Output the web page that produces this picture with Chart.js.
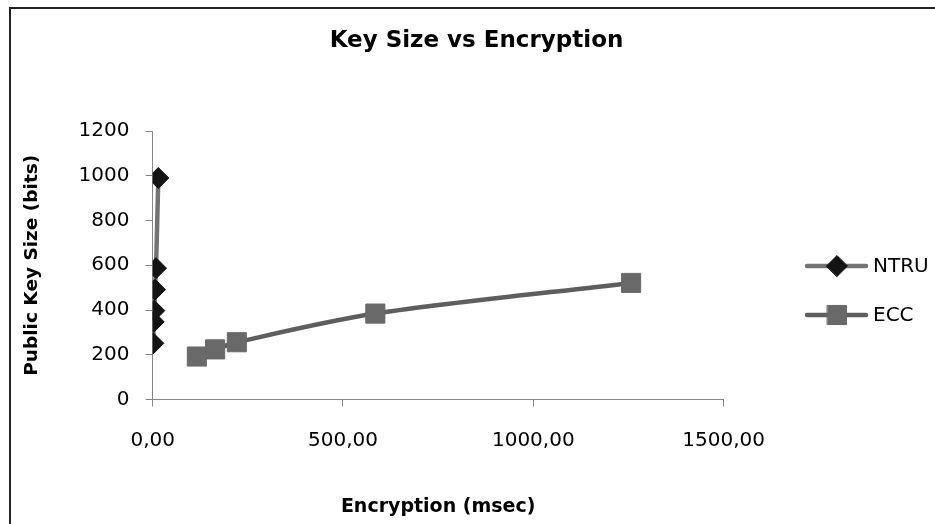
<!DOCTYPE html>
<html>
<head>
<meta charset="utf-8">
<script src="https://cdn.jsdelivr.net/npm/chart.js@4"></script>
<style>
  html, body { margin: 0; padding: 0; background: #fff; }
  #wrap { position: relative; width: 935px; height: 524px; overflow: hidden; background: #fff; }
  #wrap canvas { position: absolute; left: 0; top: 0; }
  #frame { position: absolute; left: 9px; top: 7px; width: 1000px; height: 1000px;
           border-left: 2px solid #222; border-top: 2px solid #222; pointer-events: none; }
</style>
</head>
<body>
<div id="wrap">
  <canvas id="chart" width="935" height="524"></canvas>
  <div id="frame"></div>
</div>
<script>
// Encryption time (msec) and public key size (bits) per scheme
const ntruEncryption = [1.6, 2.6, 4.2, 6.0, 8.7, 14.7];
const ntruKeySize    = [251, 347, 397, 491, 587, 990];
const eccEncryption  = [116, 164, 221, 585, 1257];
const eccKeySize     = [192, 224, 256, 384, 521];

const seriesNames = ['NTRU', 'ECC'];
const xTickValues = [0, 500, 1000, 1500];
const yTickValues = [0, 200, 400, 600, 800, 1000, 1200];

const FONT = 'DejaVu Sans';
const AXIS_GREY = '#868686';

function toPoints(xs, ys) {
  return xs.map((x, i) => ({ x: x, y: ys[i] }));
}

// Legend at the right of the plot: a line with the series marker, then the name
const sideLegend = {
  id: 'sideLegend',
  afterDraw(chart) {
    const ctx = chart.ctx;
    const rows = [266, 315];
    const x0 = 807, x1 = 866, xm = 837, xt = 873;
    chart.data.datasets.forEach((ds, i) => {
      const y = rows[i];
      ctx.save();
      ctx.strokeStyle = ds.borderColor;
      ctx.lineWidth = ds.borderWidth;
      ctx.lineCap = 'round';
      ctx.beginPath();
      ctx.moveTo(x0, y);
      ctx.lineTo(x1, y);
      ctx.stroke();
      ctx.fillStyle = ds.pointBackgroundColor;
      ctx.strokeStyle = ds.pointBorderColor;
      ctx.lineWidth = 1;
      ctx.beginPath();
      if (ds.pointStyle === 'rectRot') {
        const r = ds.pointRadius;
        ctx.moveTo(xm - r, y);
        ctx.lineTo(xm, y - r);
        ctx.lineTo(xm + r, y);
        ctx.lineTo(xm, y + r);
        ctx.closePath();
      } else {
        const s = Math.SQRT1_2 * ds.pointRadius;
        ctx.rect(xm - s, y - s, 2 * s, 2 * s);
      }
      ctx.fill();
      ctx.stroke();
      ctx.fillStyle = '#000';
      ctx.font = '20px "' + FONT + '"';
      ctx.textAlign = 'left';
      ctx.textBaseline = 'middle';
      ctx.fillText(ds.label, xt, y + 1);
      ctx.restore();
    });
  }
};

new Chart(document.getElementById('chart'), {
  type: 'scatter',
  data: {
    datasets: [
      {
        label: seriesNames[0],
        data: toPoints(ntruEncryption, ntruKeySize),
        showLine: true,
        tension: 0.3,
        borderColor: '#737373',
        borderWidth: 4.5,
        pointStyle: 'rectRot',
        pointRadius: 10.5,
        pointBackgroundColor: '#141414',
        pointBorderColor: '#141414',
        pointBorderWidth: 1
      },
      {
        label: seriesNames[1],
        data: toPoints(eccEncryption, eccKeySize),
        showLine: true,
        tension: 0.3,
        borderColor: '#5e5e5e',
        borderWidth: 4.5,
        pointStyle: 'rect',
        pointRadius: 13.5,
        pointBackgroundColor: '#696969',
        pointBorderColor: '#696969',
        pointBorderWidth: 1
      }
    ]
  },
  options: {
    responsive: false,
    animation: false,
    devicePixelRatio: 1,
    layout: { padding: { left: 18, right: 0, top: 10, bottom: 0 } },
    plugins: {
      legend: { display: false },
      tooltip: { enabled: false },
      title: {
        display: true,
        text: 'Key Size vs Encryption',
        color: '#000',
        font: { family: FONT, size: 23, weight: 'bold' },
        padding: { top: 17.2, bottom: 76.2 }
      }
    },
    scales: {
      x: {
        type: 'linear',
        min: 0,
        max: 1500,
        afterBuildTicks: (scale) => { scale.ticks = xTickValues.map(v => ({ value: v })); },
        afterFit: (scale) => { scale.height = 124.5; },
        ticks: {
          color: '#000',
          font: { family: FONT, size: 20 },
          padding: 22,
          maxRotation: 0,
          autoSkip: false,
          callback: (v) => Number(v).toFixed(2).replace('.', ',')
        },
        grid: { drawOnChartArea: false, tickLength: 7, color: AXIS_GREY, lineWidth: 1 },
        border: { color: AXIS_GREY, width: 1 },
        title: {
          display: true,
          text: 'Encryption (msec)',
          color: '#000',
          font: { family: FONT, size: 19, weight: 'bold' },
          padding: { top: 0, bottom: 5.9 }
        }
      },
      y: {
        type: 'linear',
        position: 'left',
        min: 0,
        max: 1200,
        afterBuildTicks: (scale) => { scale.ticks = yTickValues.map(v => ({ value: v })); },
        afterFit: (scale) => { scale.width = 134.7; },
        ticks: {
          color: '#000',
          font: { family: FONT, size: 20 },
          padding: 16.2,
          autoSkip: false,
          callback: (v) => String(v)
        },
        grid: { drawOnChartArea: false, tickLength: 7, color: AXIS_GREY, lineWidth: 1 },
        border: { color: AXIS_GREY, width: 1 },
        title: {
          display: true,
          text: 'Public Key Size (bits)',
          color: '#000',
          font: { family: FONT, size: 18.5, weight: 'bold' },
          padding: { top: 2.9, bottom: 0 }
        }
      },
      // empty band on the right that holds the legend
      legendBand: {
        type: 'linear',
        position: 'right',
        display: true,
        afterFit: (scale) => { scale.width = 211.4; },
        ticks: { display: false },
        grid: { display: false },
        border: { display: false },
        title: { display: false }
      }
    }
  },
  plugins: [sideLegend]
});
</script>
</body>
</html>
